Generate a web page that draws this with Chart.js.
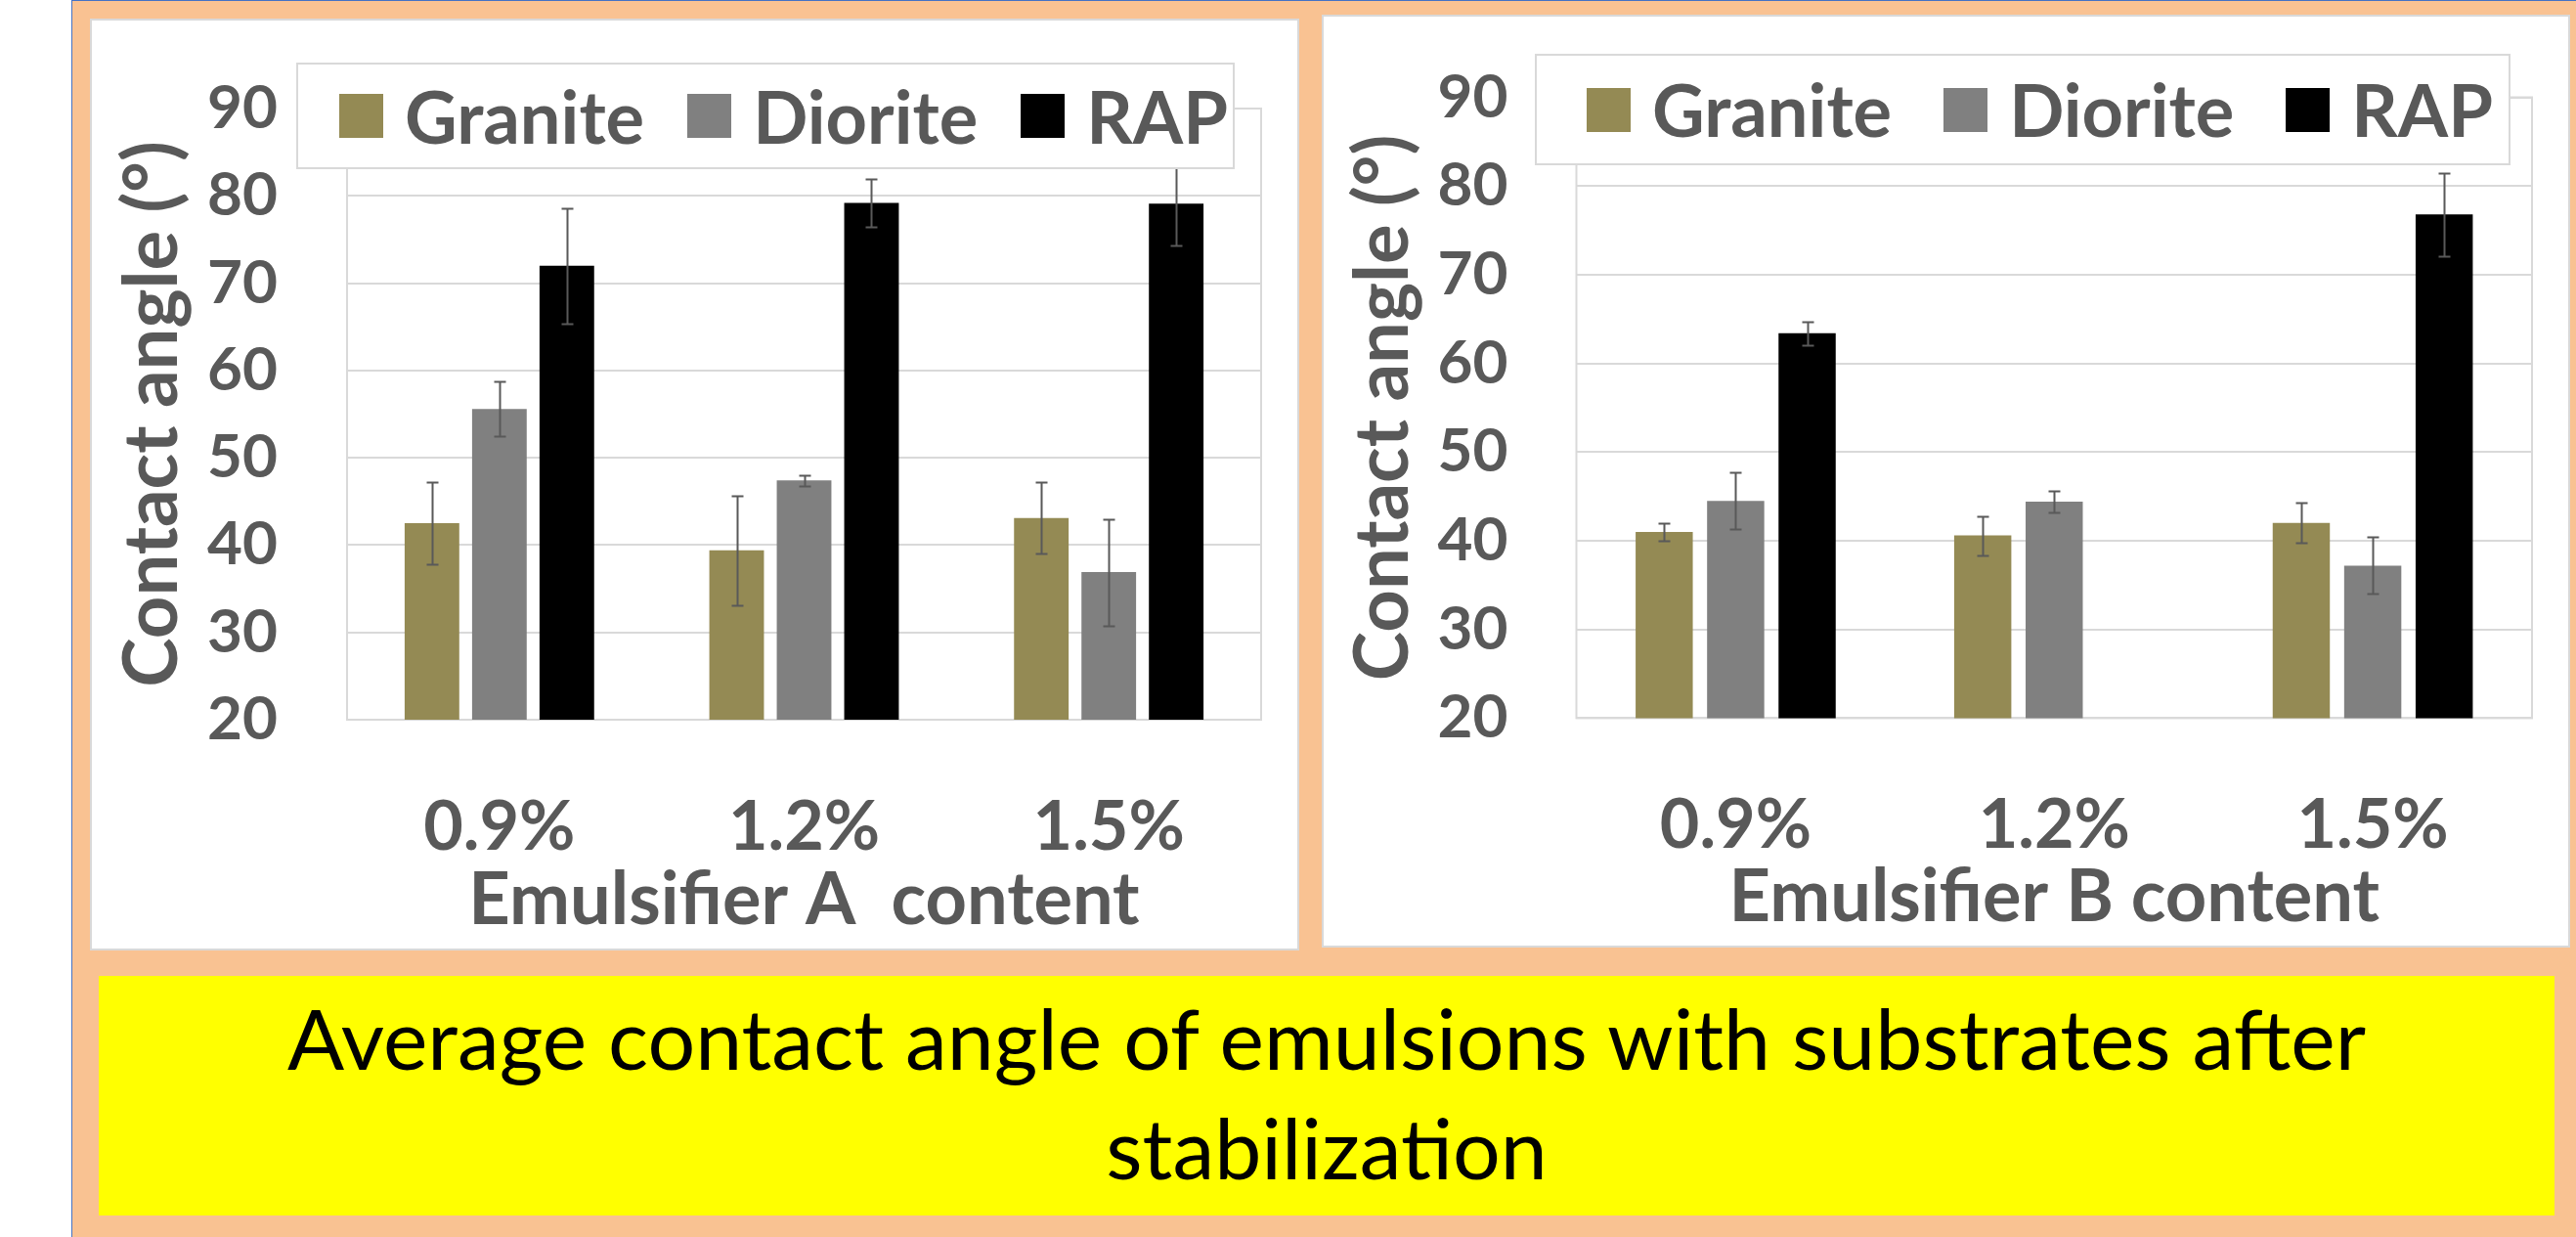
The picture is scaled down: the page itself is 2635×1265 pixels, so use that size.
<!DOCTYPE html>
<html>
<head>
<meta charset="utf-8">
<script src="https://cdn.jsdelivr.net/npm/chart.js@4.4.0/dist/chart.umd.min.js"></script>
<style>
  body { margin: 0; width: 2635px; height: 1265px; background: #f9c292; position: relative; overflow: hidden; font-family: Lato, sans-serif; }
  #strip { position: absolute; left: 0; top: 0; width: 73px; height: 1265px; background: #fff; border-right: 1px solid #4472c4; }
  #topline { position: absolute; left: 73px; top: 0; right: 0; height: 1px; background: #4472c4; }
  .panel { position: absolute; background: #fff; border: 2px solid #d9d9d9; box-sizing: border-box; }
  .panel canvas { position: absolute; left: 0; top: 0; }
  .legend { position: absolute; background: #fff; border: 2px solid #d9d9d9; box-sizing: border-box; display: flex; align-items: center; z-index: 2; }
  .legend .item { display: flex; align-items: center; font-weight: 700; color: #595959; font-size: 74px; line-height: 1; }
  .legend .sw { width: 45px; height: 45px; margin-right: 22px; }
  #caption { position: absolute; left: 101px; top: 998px; width: 2512px; height: 245px; background: #ffff00; }
  #caption div { position: absolute; left: 0; top: 7px; width: 100%; text-align: center; font-size: 86px; line-height: 112px; color: #000; }
</style>
</head>
<body>
<div id="strip"></div>
<div id="topline"></div>

<div class="panel" style="left:92px; top:19px; width:1237px; height:953px;">
  <canvas id="chartA" width="1233" height="949"></canvas>
</div>
<div class="legend" id="legendA" style="left:303px; top:64px; width:960px; height:109px; padding-left:42px; gap:44px;"></div>

<div class="panel" style="left:1352px; top:15px; width:1277px; height:954px;">
  <canvas id="chartB" width="1273" height="950"></canvas>
</div>
<div class="legend" id="legendB" style="left:1570px; top:55px; width:998px; height:114px; padding-left:51px; gap:53px;"></div>

<div id="caption"><div>Average contact angle of emulsions with substrates after<br>stabilization</div></div>

<script>
const categories = ["0.9%", "1.2%", "1.5%"];
const seriesNames = ["Granite", "Diorite", "RAP"];
const seriesColors = ["#948a54", "#808080", "#000000"];
const yTicks = [20, 30, 40, 50, 60, 70, 80, 90];

// Emulsifier A (means and error bar half-widths)
const graniteA = [42.5, 39.4, 43.1];
const graniteAErr = [4.7, 6.3, 4.1];
const dioriteA = [55.6, 47.4, 36.9];
const dioriteAErr = [3.1, 0.6, 6.1];
const rapA = [72.0, 79.2, 79.1];
const rapAErr = [6.6, 2.7, 4.8];

// Emulsifier B
const graniteB = [41.0, 40.6, 42.0];
const graniteBErr = [1.0, 2.2, 2.25];
const dioriteB = [44.5, 44.4, 37.2];
const dioriteBErr = [3.2, 1.2, 3.2];
const rapB = [63.4, null, 76.8];
const rapBErr = [1.3, null, 4.7];

Chart.defaults.font.family = "Lato, sans-serif";

// error bars drawn from the y scale
const errorBars = {
  id: "errorBars",
  afterDatasetsDraw(chart) {
    const ctx = chart.ctx;
    const y = chart.scales.y;
    ctx.save();
    ctx.strokeStyle = "#595959";
    ctx.lineWidth = 2;
    chart.data.datasets.forEach((ds, i) => {
      const meta = chart.getDatasetMeta(i);
      meta.data.forEach((bar, j) => {
        const v = ds.data[j], e = ds.errors[j];
        if (v == null || e == null) return;
        const top = Math.round(y.getPixelForValue(v + e)) + 0.5;
        const bot = Math.round(y.getPixelForValue(v - e)) + 0.5;
        const x = Math.round(bar.x) + 0.5;
        ctx.beginPath();
        ctx.moveTo(x, top); ctx.lineTo(x, bot);
        ctx.moveTo(x - 6, top); ctx.lineTo(x + 6, top);
        ctx.moveTo(x - 6, bot); ctx.lineTo(x + 6, bot);
        ctx.stroke();
      });
    });
    ctx.restore();
  }
};

// light border round the plot area
const plotFrame = {
  id: "plotFrame",
  beforeDatasetsDraw(chart) {
    const { left, top, right, bottom } = chart.chartArea;
    const ctx = chart.ctx;
    ctx.save();
    ctx.strokeStyle = "#d9d9d9";
    ctx.lineWidth = 2;
    ctx.strokeRect(left, top, right - left, bottom - top);
    ctx.restore();
  }
};

function makeChart(canvasId, legendId, series, errs, xTitle, lay) {
  const datasets = seriesNames.map((name, i) => ({
    label: name,
    data: series[i],
    errors: errs[i],
    backgroundColor: seriesColors[i],
    barPercentage: lay.barPct,
    categoryPercentage: lay.catPct
  }));

  const chart = new Chart(document.getElementById(canvasId), {
    type: "bar",
    data: { labels: categories, datasets: datasets },
    options: {
      responsive: false,
      animation: false,
      devicePixelRatio: 1,
      layout: { padding: { top: lay.padTop, right: lay.padRight, left: 0, bottom: 0 } },
      plugins: { legend: { display: false }, tooltip: { enabled: false } },
      scales: {
        x: {
          grid: { display: false },
          border: { display: false },
          ticks: { color: "#595959", font: { size: 70, weight: "bold" }, padding: 60 },
          title: { display: true, text: xTitle, color: "#595959", font: { size: 74, weight: "bold" }, padding: { top: 0, bottom: 4 } },
          afterFit: s => { s.height = lay.xHeight; s.paddingLeft = 0; s.paddingRight = 0; }
        },
        y: {
          min: yTicks[0],
          max: yTicks[yTicks.length - 1],
          afterBuildTicks: s => { s.ticks = yTicks.map(v => ({ value: v })); },
          grid: { color: "#d9d9d9", lineWidth: 2, drawTicks: false },
          border: { display: false },
          ticks: { color: "#595959", font: { size: 62, weight: "bold" }, padding: lay.tickPad },
          title: { display: true, text: "Contact angle (°)", color: "#595959", font: { size: 76, weight: "bold" }, padding: { top: lay.titlePad, bottom: 0 } },
          afterFit: s => { s.width = lay.yWidth; s.paddingTop = 0; s.paddingBottom = 0; }
        }
      }
    },
    plugins: [plotFrame, errorBars]
  });

  // legend built from the chart's datasets
  const box = document.getElementById(legendId);
  chart.data.datasets.forEach(ds => {
    const item = document.createElement("div");
    item.className = "item";
    item.innerHTML = `<span class="sw" style="background:${ds.backgroundColor}"></span>${ds.label}`;
    box.appendChild(item);
  });
  return chart;
}

makeChart("chartA", "legendA",
  [graniteA, dioriteA, rapA], [graniteAErr, dioriteAErr, rapAErr],
  "Emulsifier A  content",
  { padTop: 90, padRight: 37, yWidth: 261, xHeight: 234, tickPad: 71, titlePad: 17, barPct: 0.81, catPct: 0.664 });

makeChart("chartB", "legendB",
  [graniteB, dioriteB, rapB], [graniteBErr, dioriteBErr, rapBErr],
  "Emulsifier B content",
  { padTop: 82.5, padRight: 37, yWidth: 258.5, xHeight: 232.6, tickPad: 70, titlePad: 16, barPct: 0.80, catPct: 0.673 });
</script>
</body>
</html>
